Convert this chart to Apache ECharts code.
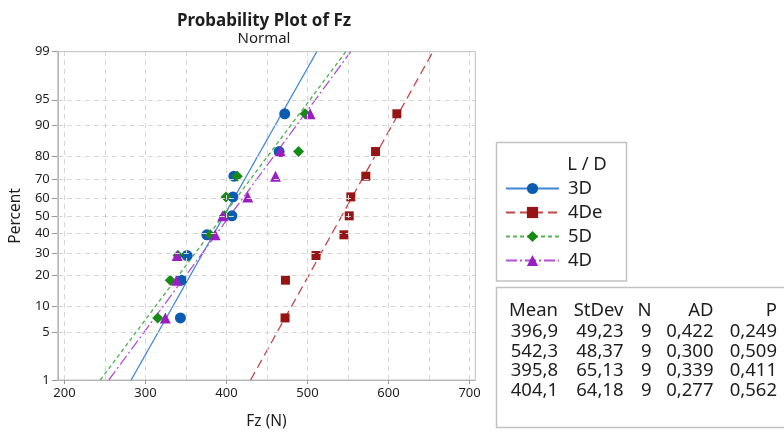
<!DOCTYPE html>
<html>
<head>
<meta charset="utf-8">
<script src="https://cdn.jsdelivr.net/npm/echarts@6/dist/echarts.min.js"></script>
<style>
  html, body { margin: 0; padding: 0; background: #ffffff; }
  #chart { width: 784px; height: 435px; }
</style>
</head>
<body>
<div id="chart"></div>
<script>
// ---- data ----
const groups = ['3D', '4De', '5D', '4D'];
const plotPercent = [7.4, 18.1, 28.7, 39.4, 50, 60.6, 71.3, 81.9, 92.6];
const fz3D  = [343.2, 344.5, 351.4, 375.8, 406.7, 408.0, 409.2, 465.0, 471.9];
const fz4De = [472.3, 472.8, 510.5, 545.0, 551.5, 553.5, 572.0, 584.0, 610.3];
const fz5D  = [315.1, 330.6, 340.2, 379.9, 397.6, 399.4, 413.3, 489.0, 497.1];
const fz4D  = [324.5, 338.4, 339.2, 386.0, 395.4, 426.3, 460.5, 466.6, 503.2];
const means  = [396.9, 542.3, 395.8, 404.1];
const stdevs = [49.23, 48.37, 65.13, 64.18];
const counts = [9, 9, 9, 9];
const adStats = ['0,422', '0,300', '0,339', '0,277'];
const pValues = ['0,249', '0,509', '0,411', '0,562'];
const percentTicks = [1, 5, 10, 20, 30, 40, 50, 60, 70, 80, 90, 95, 99];
const fzLabels = [200, 300, 400, 500, 600, 700];
const fzGrid = [200, 250, 300, 350, 400, 450, 500, 550, 600, 650, 700];

// ---- styling ----
const FONT = 'Noto Sans';
const TEXT = '#1e1e1e';
const X_MIN = 191.8, X_MAX = 707.1;
const groupStyle = [
  { symbol: 'circle',   size: 11, marker: '#0b5bb0', line: '#3f86d3', dash: 'solid',        width: 1.3 },
  { symbol: 'rect',     size: 9,  marker: '#961414', line: '#c04848', dash: [9, 5],         width: 1.3 },
  { symbol: 'diamond',  size: 11, marker: '#158a15', line: '#55b455', dash: [4, 3],         width: 1.4 },
  { symbol: 'triangle', size: 11, marker: '#9a1fc0', line: '#b450d4', dash: [11, 3, 2, 3],  width: 1.3 }
];
const fzByGroup = [fz3D, fz4De, fz5D, fz4D];

// inverse of the standard normal CDF (Acklam's rational approximation)
function probit(p) {
  const a = [-3.969683028665376e+01, 2.209460984245205e+02, -2.759285104469687e+02, 1.383577518672690e+02, -3.066479806614716e+01, 2.506628277459239e+00];
  const b = [-5.447609879822406e+01, 1.615858368580409e+02, -1.556989798598866e+02, 6.680131188771972e+01, -1.328068155288572e+01];
  const c = [-7.784894002430293e-03, -3.223964580411365e-01, -2.400758277161838e+00, -2.549732539343734e+00, 4.374664141464968e+00, 2.938163982698783e+00];
  const d = [7.784695709041462e-03, 3.224671290700398e-01, 2.445134137142996e+00, 3.754408661907416e+00];
  const pl = 0.02425, ph = 1 - pl;
  let q, r;
  if (p < pl) {
    q = Math.sqrt(-2 * Math.log(p));
    return (((((c[0]*q + c[1])*q + c[2])*q + c[3])*q + c[4])*q + c[5]) / ((((d[0]*q + d[1])*q + d[2])*q + d[3])*q + 1);
  }
  if (p <= ph) {
    q = p - 0.5; r = q * q;
    return (((((a[0]*r + a[1])*r + a[2])*r + a[3])*r + a[4])*r + a[5])*q / (((((b[0]*r + b[1])*r + b[2])*r + b[3])*r + b[4])*r + 1);
  }
  q = Math.sqrt(-2 * Math.log(1 - p));
  return -(((((c[0]*q + c[1])*q + c[2])*q + c[3])*q + c[4])*q + c[5]) / ((((d[0]*q + d[1])*q + d[2])*q + d[3])*q + 1);
}

const zLo = probit(percentTicks[0] / 100);
const zHi = probit(percentTicks[percentTicks.length - 1] / 100);
const zTicks = percentTicks.map(p => probit(p / 100));

function percentLabel(v) {
  let best = 0, bestDiff = Infinity;
  zTicks.forEach((z, i) => {
    const diff = Math.abs(z - v);
    if (diff < bestDiff) { bestDiff = diff; best = i; }
  });
  return String(percentTicks[best]);
}

// ---- series ----
const series = [];

// dashed reference grid
const gridLines = fzGrid.map(v => [{ coord: [v, zLo] }, { coord: [v, zHi] }])
  .concat(zTicks.slice(1, -1).map(z => [{ coord: [X_MIN, z] }, { coord: [X_MAX, z] }]));
series.push({
  type: 'line',
  name: 'grid',
  data: [],
  silent: true,
  z: 1,
  markLine: {
    silent: true,
    animation: false,
    symbol: ['none', 'none'],
    label: { show: false },
    lineStyle: { color: '#d6d6d6', type: [5, 4], width: 1 },
    emphasis: { disabled: true },
    data: gridLines
  }
});

// fitted normal lines: Fz = mean + z * stdev
groups.forEach((g, i) => {
  const s = groupStyle[i];
  series.push({
    type: 'line',
    name: g,
    z: 2,
    data: [[means[i] + stdevs[i] * zLo, zLo], [means[i] + stdevs[i] * zHi, zHi]],
    showSymbol: false,
    symbol: s.symbol,
    symbolSize: s.size,
    clip: true,
    silent: true,
    itemStyle: { color: s.marker },
    lineStyle: { color: s.line, width: s.width, type: s.dash }
  });
});

// observed values at their plotting positions
groups.forEach((g, i) => {
  const s = groupStyle[i];
  series.push({
    type: 'scatter',
    name: g,
    z: 3,
    symbol: s.symbol,
    symbolSize: s.size,
    itemStyle: { color: s.marker, opacity: 1 },
    data: fzByGroup[i].map((x, k) => [x, probit(plotPercent[k] / 100)])
  });
});

// ---- title, legend frame and stats table ----
const graphic = [];
graphic.push({ type: 'text', x: 264, y: 21, style: { text: 'Probability Plot of Fz', font: 'bold 17px "' + FONT + '"', fill: TEXT, textAlign: 'center', textVerticalAlign: 'middle' } });
graphic.push({ type: 'text', x: 264, y: 38.5, style: { text: 'Normal', font: '15px "' + FONT + '"', fill: TEXT, textAlign: 'center', textVerticalAlign: 'middle' } });

graphic.push({ type: 'rect', shape: { x: 496.5, y: 142.5, width: 130, height: 138.5 }, style: { fill: '#ffffff', stroke: '#c2c2c2', lineWidth: 1.5 }, z: -1 });
graphic.push({ type: 'text', x: 587, y: 165, style: { text: 'L / D', font: '18.5px "' + FONT + '"', fill: TEXT, textAlign: 'center', textVerticalAlign: 'middle' } });

graphic.push({ type: 'rect', shape: { x: 496.5, y: 287.5, width: 300, height: 140 }, style: { fill: '#ffffff', stroke: '#c2c2c2', lineWidth: 1.5 }, z: -1 });
const colRight = [558, 623.5, 651.5, 713.5, 777];
const headers = ['Mean', 'StDev', 'N', 'AD', 'P'];
const rowY = [331.5, 351.3, 371.1, 390.9];
headers.forEach((h, c) => {
  graphic.push({ type: 'text', x: colRight[c], y: 310.5, style: { text: h, font: '18.5px "' + FONT + '"', fill: TEXT, textAlign: 'right', textVerticalAlign: 'middle' } });
});
groups.forEach((g, i) => {
  const cells = [
    means[i].toFixed(1).replace('.', ','),
    stdevs[i].toFixed(2).replace('.', ','),
    String(counts[i]),
    adStats[i],
    pValues[i]
  ];
  cells.forEach((t, c) => {
    graphic.push({ type: 'text', x: colRight[c], y: rowY[i], style: { text: t, font: '18.5px "' + FONT + '"', fill: TEXT, textAlign: 'right', textVerticalAlign: 'middle' } });
  });
});

const chart = echarts.init(document.getElementById('chart'), null, { renderer: 'canvas' });
chart.setOption({
  animation: false,
  backgroundColor: '#ffffff',
  textStyle: { fontFamily: FONT },
  grid: {
    left: 53.3, top: 51.7, width: 422, height: 338.3,
    show: true, borderColor: '#bdbdbd', borderWidth: 1, backgroundColor: '#ffffff',
    containLabel: false
  },
  xAxis: {
    type: 'value',
    min: X_MIN,
    max: X_MAX,
    name: 'Fz (N)',
    nameLocation: 'middle',
    nameGap: 34,
    nameTextStyle: { fontSize: 15.5, color: TEXT, fontFamily: FONT },
    axisLine: { show: true, onZero: false, lineStyle: { color: '#b5b5b5', width: 1 } },
    axisTick: { show: true, length: 4, customValues: fzLabels, lineStyle: { color: '#9a9a9a' } },
    axisLabel: { customValues: fzLabels, fontSize: 13, color: TEXT, margin: 7, fontFamily: FONT },
    splitLine: { show: false }
  },
  yAxis: {
    type: 'value',
    min: zLo,
    max: zHi,
    name: 'Percent',
    nameLocation: 'middle',
    nameGap: 25,
    nameRotate: 90,
    nameTextStyle: { fontSize: 15.5, color: TEXT, fontFamily: FONT },
    axisLine: { show: true, onZero: false, lineStyle: { color: '#b5b5b5', width: 1 } },
    axisTick: { show: true, length: 6, customValues: zTicks, lineStyle: { color: '#9a9a9a' } },
    axisLabel: { customValues: zTicks, formatter: percentLabel, fontSize: 13, color: TEXT, margin: 8, fontFamily: FONT },
    splitLine: { show: false }
  },
  legend: {
    data: groups,
    orient: 'vertical',
    left: 505,
    top: 179,
    padding: 0,
    itemWidth: 53,
    itemHeight: 14,
    itemGap: 5,
    selectedMode: false,
    textStyle: { fontSize: 18.5, color: TEXT, fontFamily: FONT, padding: [0, 0, 0, 4] }
  },
  graphic: graphic,
  series: series
});
</script>
</body>
</html>
